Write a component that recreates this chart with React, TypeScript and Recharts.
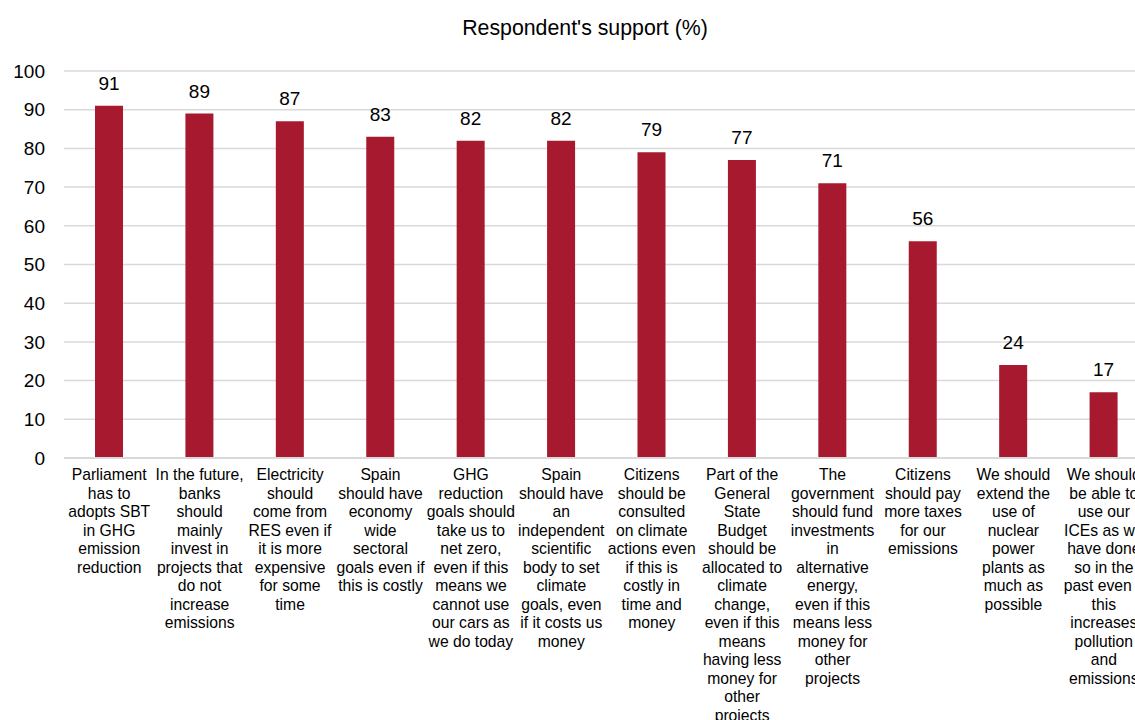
import React from "react";
import { BarChart, Bar, XAxis, YAxis, CartesianGrid, LabelList } from "recharts";

const categories: string[] = [
  "Parliament\nhas to\nadopts SBT\nin GHG\nemission\nreduction",
  "In the future,\nbanks\nshould\nmainly\ninvest in\nprojects that\ndo not\nincrease\nemissions",
  "Electricity\nshould\ncome from\nRES even if\nit is more\nexpensive\nfor some\ntime",
  "Spain\nshould have\neconomy\nwide\nsectoral\ngoals even if\nthis is costly",
  "GHG\nreduction\ngoals should\ntake us to\nnet zero,\neven if this\nmeans we\ncannot use\nour cars as\nwe do today",
  "Spain\nshould have\nan\nindependent\nscientific\nbody to set\nclimate\ngoals, even\nif it costs us\nmoney",
  "Citizens\nshould be\nconsulted\non climate\nactions even\nif this is\ncostly in\ntime and\nmoney",
  "Part of the\nGeneral\nState\nBudget\nshould be\nallocated to\nclimate\nchange,\neven if this\nmeans\nhaving less\nmoney for\nother\nprojects",
  "The\ngovernment\nshould fund\ninvestments\nin\nalternative\nenergy,\neven if this\nmeans less\nmoney for\nother\nprojects",
  "Citizens\nshould pay\nmore taxes\nfor our\nemissions",
  "We should\nextend the\nuse of\nnuclear\npower\nplants as\nmuch as\npossible",
  "We should\nbe able to\nuse our\nICEs as we\nhave done\nso in the\npast even if\nthis\nincreases\npollution\nand\nemissions",
];

const support: number[] = [91, 89, 87, 83, 82, 82, 79, 77, 71, 56, 24, 17];

const yTicks: number[] = [0, 10, 20, 30, 40, 50, 60, 70, 80, 90, 100];

const title = "Respondent's support (%)";

const data = categories.map((c, i) => ({ name: c, value: support[i] }));

const FONT = "'Liberation Sans', Arial, sans-serif";

const CategoryTick = (props: any) => {
  const { x, y, payload } = props;
  const lines: string[] = String(payload.value).split("\n");
  return (
    <text
      x={x}
      y={y}
      textAnchor="middle"
      fontFamily={FONT}
      fontSize={15.7}
      fill="#000"
    >
      {lines.map((l, i) => (
        <tspan key={i} x={x} dy={i === 0 ? 14 : 18.5}>
          {l}
        </tspan>
      ))}
    </text>
  );
};

export default function App() {
  return (
    <div
      style={{
        position: "fixed",
        left: 0,
        top: 0,
        width: 1135,
        height: 720,
        overflow: "hidden",
        background: "#fff",
      }}
    >
      <div
        style={{
          position: "absolute",
          left: 0,
          top: 15,
          width: 1170,
          textAlign: "center",
          fontFamily: FONT,
          fontSize: 21.3,
          lineHeight: "26px",
          color: "#000",
        }}
      >
        {title}
      </div>
      <BarChart
        width={1150}
        height={720}
        data={data}
        margin={{ top: 71, right: 1, left: 0, bottom: 0 }}
        barCategoryGap={0}
      >
        <CartesianGrid vertical={false} stroke="#d9d9d9" strokeWidth={1.5} />
        <XAxis
          dataKey="name"
          interval={0}
          height={262}
          tickLine={false}
          axisLine={{ stroke: "#d9d9d9", strokeWidth: 2 }}
          tick={<CategoryTick />}
        />
        <YAxis
          width={64}
          domain={[0, 100]}
          ticks={yTicks}
          interval={0}
          axisLine={false}
          tickLine={false}
          tickSize={0}
          tickMargin={19}
          tick={{ fontFamily: FONT, fontSize: 19, fill: "#000" }}
        />
        <Bar dataKey="value" fill="#A6192E" barSize={28} isAnimationActive={false}>
          <LabelList
            dataKey="value"
            position="top"
            offset={16}
            style={{ fontFamily: FONT, fontSize: 19, fill: "#000" }}
          />
        </Bar>
      </BarChart>
    </div>
  );
}
